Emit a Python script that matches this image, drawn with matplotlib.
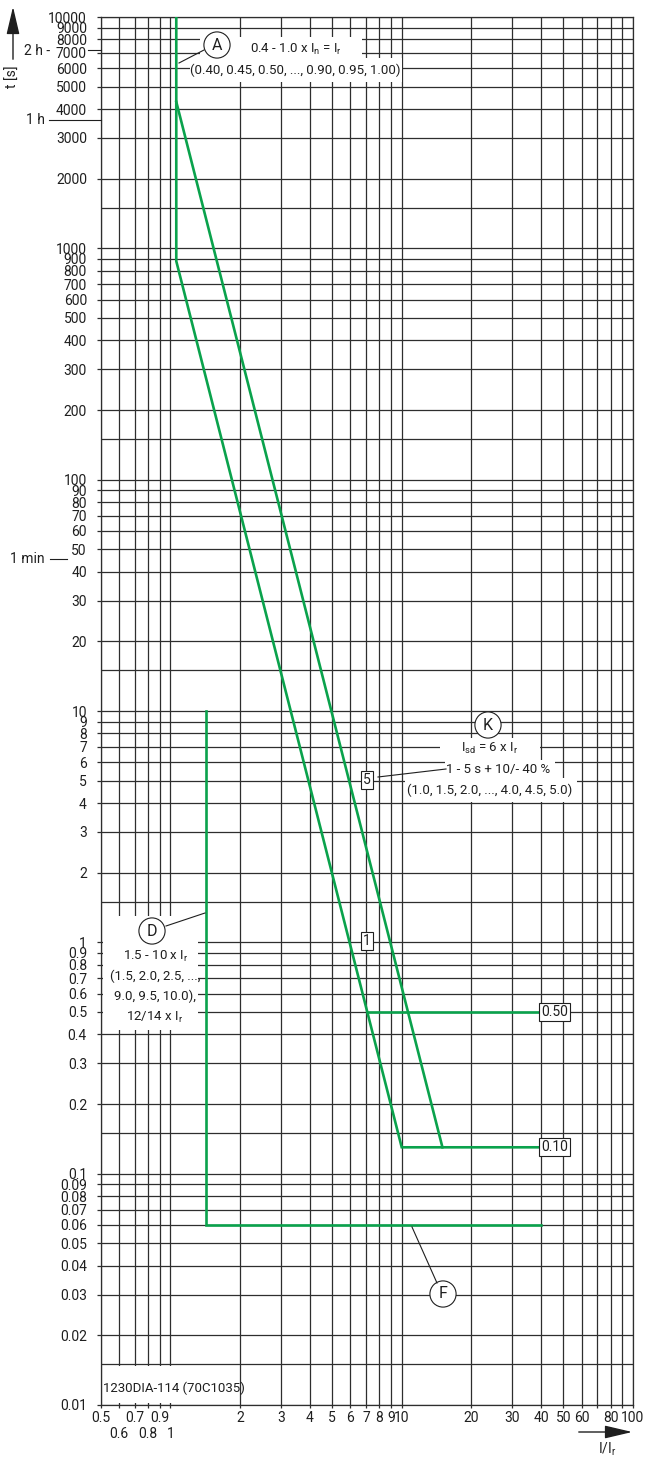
import matplotlib
matplotlib.use('Agg')
import matplotlib.pyplot as plt
import matplotlib.transforms as mtransforms
from matplotlib.patches import Rectangle, FancyArrowPatch
from matplotlib.ticker import NullLocator

# grid / ticks
decades = [0.01, 0.1, 1, 10, 100, 1000]
y_ticks = [m * d for d in decades for m in range(1, 10)] + [10000]
y_extra = [0.015, 0.15, 1.5, 15, 150, 1500]
x_ticks = [0.5, 0.6, 0.7, 0.8, 0.9, 1, 2, 3, 4, 5, 6, 7, 8, 9, 10,
           20, 30, 40, 50, 60, 70, 80, 90, 100]
x_row1 = [0.5, 0.7, 0.9, 2, 3, 4, 5, 6, 7, 8, 9, 10, 20, 30, 40, 50, 60, 80, 100]
x_row2 = [0.6, 0.8, 1]

# tripping curves (I/Ir, t [s])
long_lo_x = [1.06, 1.06, 10, 40]
long_lo_t = [10000, 880, 0.13, 0.13]
long_hi_x = [1.06, 15]
long_hi_t = [4300, 0.13]
short_x = [7.1, 40]
short_t = [0.5, 0.5]
inst_x = [1.43, 1.43, 40]
inst_t = [10, 0.06, 0.06]

plt.rcParams['font.family'] = ['Roboto', 'DejaVu Sans']
plt.rcParams['mathtext.default'] = 'regular'
plt.rcParams['font.size'] = 10

W, H = 647, 1459
green = '#0aa24c'
gcol = '#2e2e2e'
tcol = '#1f1f1f'
fs_txt = 9.5

fig = plt.figure(figsize=(W / 100, H / 100), dpi=100)
ax = fig.add_axes([100.8 / W, 1 - 1405 / H, 532.2 / W, 1388 / H])
ax.set_xscale('log')
ax.set_yscale('log')
ax.set_xlim(0.5, 100)
ax.set_ylim(0.01, 10000)

for v in x_ticks:
    ax.axvline(v, color=gcol, lw=0.9, zorder=1)
for v in y_ticks + y_extra:
    ax.axhline(v, color=gcol, lw=0.9, zorder=1)
for s in ax.spines.values():
    s.set_color(gcol)
    s.set_linewidth(0.9)

ax.xaxis.set_minor_locator(NullLocator())
ax.yaxis.set_minor_locator(NullLocator())
ax.set_yticks(y_ticks)
ax.set_yticklabels(['%g' % v for v in y_ticks])
ax.set_xticks(x_ticks)
ax.set_xticklabels(['%g' % v if v in x_row1 else '' for v in x_ticks])
ax.tick_params(axis='y', length=3, width=0.9, color=gcol, pad=7, labelcolor=tcol)
ax.tick_params(axis='x', length=2.5, width=0.9, color=gcol, pad=2, labelcolor=tcol)
for v in x_row2:
    ax.annotate('%g' % v, xy=(v, 0), xycoords=('data', 'axes fraction'),
                xytext=(0, -22), textcoords='offset pixels', ha='center', va='top',
                color=tcol)

# green curves
kw = dict(color=green, lw=1.9, zorder=4, solid_joinstyle='miter')
ax.plot(long_lo_x, long_lo_t, **kw)
ax.plot(long_hi_x, long_hi_t, **kw)
ax.plot(short_x, short_t, **kw)
ax.plot(inst_x, inst_t, **kw)

# pixel transform (origin top-left)
tp = mtransforms.Affine2D().scale(1 / W, -1 / H).translate(0, 1) + fig.transFigure

circ = dict(boxstyle='circle,pad=0.35', fc='white', ec=tcol, lw=0.8)
sq = dict(boxstyle='square,pad=0.15', fc='white', ec=tcol, lw=0.8)


def txt(px, py, s, bbox=None, ha='center', fs=fs_txt, z=5):
    fig.text(px / W, 1 - py / H, s, ha=ha, va='center', fontsize=fs, color=tcol,
             bbox=bbox, zorder=z)


def seg(p0, p1, lw=0.8):
    fig.add_artist(plt.Line2D([p0[0], p1[0]], [p0[1], p1[1]], transform=tp,
                              color=tcol, lw=lw, zorder=6))


def blank(x0, y0, x1, y1):
    ax.add_patch(Rectangle((x0, y1), x1 - x0, y0 - y1, transform=tp, fc='white',
                           ec='none', zorder=2, clip_on=False))


# A block
blank(200, 37, 362, 60)
blank(190, 58, 402, 82)
txt(296, 49, '0.4 - 1.0 x $I_n$ = $I_r$')
txt(295, 70, '(0.40, 0.45, 0.50, ..., 0.90, 0.95, 1.00)')
seg((204, 50), (179, 63))
txt(217, 45, 'A', bbox=circ, fs=11.5)

# K block
blank(440, 738, 540, 760)
blank(445, 760, 555, 778)
blank(405, 778, 577, 802)
txt(490, 748, '$I_{sd}$ = 6 x $I_r$')
txt(498, 769, '1 - 5 s + 10/- 40 %')
txt(490, 790, '(1.0, 1.5, 2.0, ..., 4.0, 4.5, 5.0)')
txt(488, 725, 'K', bbox=circ, fs=11.5)
seg((378, 777), (446, 769))
txt(367, 780, '5', bbox=sq, fs=10)
txt(367, 941, '1', bbox=sq, fs=10)

# D block
blank(103, 916, 198, 1030)
txt(156, 956, '1.5 - 10 x $I_r$')
txt(155, 976, '(1.5, 2.0, 2.5, ...,')
txt(155, 996, '9.0, 9.5, 10.0),')
txt(155, 1017, '12/14 x $I_r$')
seg((166, 926), (205, 913))
txt(152, 931, 'D', bbox=circ, fs=11.5)

# F
seg((437, 1283), (412, 1227))
txt(443, 1294, 'F', bbox=circ, fs=11.5)

# level boxes
ax.text(40, 0.5, '0.50', ha='left', va='center', color=tcol, bbox=sq, zorder=6)
ax.text(40, 0.13, '0.10', ha='left', va='center', color=tcol, bbox=sq, zorder=6)

# id box
ax.add_patch(Rectangle((0.52, 0.0102), 1.45, 0.0045, fc='white', ec='none', zorder=2))
txt(103, 1388, '1230DIA-114 (70C1035)', ha='left')

# time markers
txt(50, 51, '2 h -', ha='right', fs=10)
seg((88, 50), (100.8, 50))
txt(45, 120, '1 h', ha='right', fs=10)
seg((49, 120), (100.8, 120))
txt(45, 559, '1 min', ha='right', fs=10)
seg((50, 559), (67, 559))

# axis labels with arrows
fig.text(13 / W, 1 - 77 / H, 't [s]', rotation=90, ha='center', va='center', color=tcol)
fig.add_artist(FancyArrowPatch(
    (13, 62), (13, 4), transform=tp, arrowstyle='-|>,head_length=0.85,head_width=0.2',
    mutation_scale=20, color=tcol, lw=1))
fig.add_artist(FancyArrowPatch(
    (576, 1432), (635, 1432), transform=tp, arrowstyle='-|>,head_length=0.85,head_width=0.2',
    mutation_scale=20, color=tcol, lw=1))
fig.text(607 / W, 1 - 1449 / H, '$I/I_r$', ha='center', va='center', color=tcol)

fig.savefig('out.png', dpi=100)
